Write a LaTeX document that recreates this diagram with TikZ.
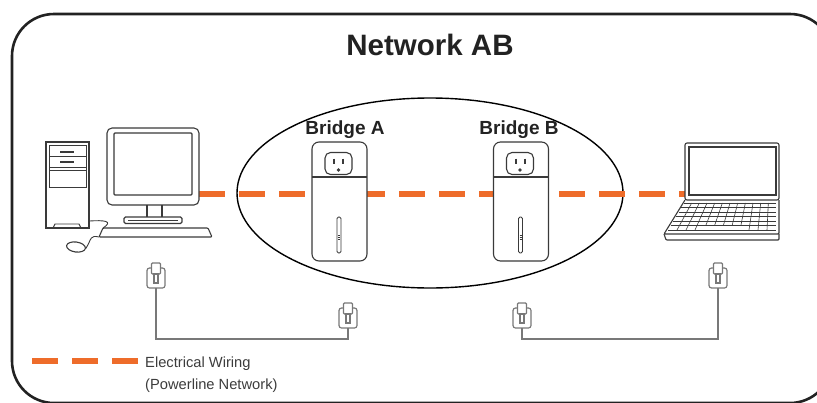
\documentclass[tikz,border=0pt]{standalone}
\usepackage{fontspec}
\setmainfont{Liberation Sans}
\usetikzlibrary{shapes.geometric}
\definecolor{powerorange}{RGB}{238,108,42}
\definecolor{framegray}{RGB}{34,34,34}
\definecolor{devgray}{RGB}{58,58,58}
\definecolor{wiregray}{RGB}{120,120,120}
\definecolor{textgray}{RGB}{60,60,60}
\begin{document}
\begin{tikzpicture}[x=1pt,y=-1pt,
  frame/.style={draw=framegray, line width=2.6pt, rounded corners=42},
  netzone/.style={draw=black, line width=1.4pt, ellipse, inner sep=0pt},
  dev/.style={draw=devgray, line width=1.1pt},
  keyline/.style={draw=devgray, line width=0.6pt},
  power/.style={draw=powerorange, line width=5.5pt, dash pattern=on 26pt off 14pt},
  wire/.style={draw=wiregray, line width=2pt},
  plugc/.style={draw=wiregray, line width=1.2pt},
  title/.style={font=\fontsize{29.5}{32}\selectfont\bfseries, text=framegray, inner sep=0pt},
  devlabel/.style={font=\fontsize{19}{21}\selectfont\bfseries, text=framegray, inner sep=0pt},
  legend/.style={font=\fontsize{14.7}{17}\selectfont, text=textgray, inner sep=0pt, anchor=base west},
  bridge/.pic={
    \node[dev, fill=white, rounded corners=7, minimum width=55, minimum height=119, inner sep=0pt] (-body) at (0,0) {};
    \draw[dev] (-27.5,-24.5) -- (27.5,-24.5);
    \node[dev, rounded corners=5.5, minimum width=27, minimum height=22, inner sep=0pt] (-outlet) at (-1,-38) {};
    \draw[devgray, line width=2pt] (-5.5,-43) -- (-5.5,-37.5) (3.5,-43) -- (3.5,-37.5);
    \fill[devgray] (-1,-31.5) circle (1.9);
    \draw[dev, line width=0.8pt, rounded corners=1.5] (-2.5,15.5) rectangle (1.5,51.5);
    \draw[devgray, line width=0.5pt] (-1.5,33.5) -- (0.5,33.5) (-1.5,35.5) -- (0.5,35.5) (-1.5,37.5) -- (0.5,37.5);
  },
  plug/.pic={
    \draw[plugc, rounded corners=2.5] (-9,-20) rectangle (9,0);
    \draw[plugc, fill=white, rounded corners=1] (-4.5,-25) rectangle (4.5,-14);
    \draw[plugc, fill=white] (-2,-14) rectangle (2,-5);
    \coordinate (-base) at (0,0);
  }
]
\useasboundingbox (0,0) rectangle (817,402);

% outer rounded frame, running off the right and bottom edges
\begin{scope}
  \clip (0,0) rectangle (817,402);
  \draw[frame] (12,14) rectangle (832,403);
\end{scope}

\node[title, anchor=base] (ttl) at (430,55) {Network AB};

% powerline network zone
\node[netzone, minimum width=386, minimum height=190] (net) at (430,193) {};

% powerline wiring between the computer and the laptop
\coordinate (pwL) at (199,194);
\coordinate (pwR) at (685,194);
\draw[power] (pwL) -- (pwR);

% bridges
\pic (bA) at (339.5,201.5) {bridge};
\pic (bB) at (521,201.5) {bridge};
\node[devlabel, anchor=base] (lblA) at (345,134) {Bridge A};
\node[devlabel, anchor=base] (lblB) at (519,134) {Bridge B};

% desktop computer: tower
\node[dev, minimum width=43, minimum height=86, inner sep=0pt] (tower) at (67.5,185) {};
\draw[dev, line width=0.9pt] (49,145) rectangle (86,187);
\draw[dev, line width=0.9pt] (49,156) -- (86,156) (49,167.5) -- (86,167.5) (49,170.5) -- (86,170.5);
\draw[dev, line width=1.4pt] (60,152) -- (74,152) (60,162) -- (74,162);
\draw[dev, line width=0.9pt] (53,228) -- (55,224) -- (79,224) -- (81,228);
% monitor
\node[dev, fill=white, rounded corners=5, minimum width=92, minimum height=77, inner sep=0pt] (mon) at (153,166.5) {};
\draw[dev, rounded corners=1] (114,133) rectangle (192,195);
\draw[dev] (147,205) -- (147,217) (162,205) -- (162,217);
\draw[dev, rounded corners=1.5] (124,217) rectangle (182,223.5);
\draw[dev, line width=0.8pt] (128,220) -- (178,220);
% keyboard
\coordinate (kbdNW) at (103,228);
\coordinate (kbdSW) at (99,237);
\draw[dev, rounded corners=1] (kbdNW) -- (208,228) -- (212,237) -- (kbdSW) -- cycle;
% mouse
\node[dev, ellipse, minimum width=19, minimum height=10, inner sep=0pt, rotate=-8] (mouse) at (76,247) {};
\draw[dev, line width=0.9pt] (tower.east |- kbdNW) ++(0,-7) .. controls (104,220) and (114,221) .. (kbdNW);
\draw[dev, line width=0.9pt] (mouse.east) .. controls (92,238) and (90,235) .. (kbdSW);

% laptop
\node[dev, fill=white, rounded corners=2, minimum width=94, minimum height=57, inner sep=0pt] (lap) at (732,171.5) {};
\draw[dev] (689,147) rectangle (776,195);
\draw[dev, rounded corners=1] (685,200) -- (664,234) -- (779,234) -- (779,200);
\draw[dev, rounded corners=1] (664,234) -- (666,240) -- (779,240) -- (779,234);
\foreach \k in {0,...,6}
  \draw[keyline] ({684-\k*4.5*16/27},{203+\k*4.5}) -- (776,{203+\k*4.5});
\foreach \j in {1,...,11}
  \draw[keyline] ({684+\j*92/12},203) -- ({668+\j*108/12+2.7*(1-\j/12)},225.5);
\foreach \j in {1,2,3,9,10,11}
  \draw[keyline] ({668+\j*108/12+2.7*(1-\j/12)},225.5) -- ({668+\j*108/12},230);

% wall sockets and mains wiring
\pic (p1) at (156,288) {plug};
\pic (p2) at (348,328) {plug};
\pic (p3) at (522,328) {plug};
\pic (p4) at (718,288) {plug};
\draw[wire] (p1-base) -- ++(0,51) -| (p2-base);
\draw[wire] (p3-base) -- ++(0,11) -| (p4-base);

% legend
\coordinate (legL) at (32,361);
\coordinate (legR) at (138,361);
\draw[power] (legL) -- (legR);
\node[legend] (leg1) at (145,367) {Electrical Wiring};
\node[legend] (leg2) at (145,389) {(Powerline Network)};
\end{tikzpicture}
\end{document}
